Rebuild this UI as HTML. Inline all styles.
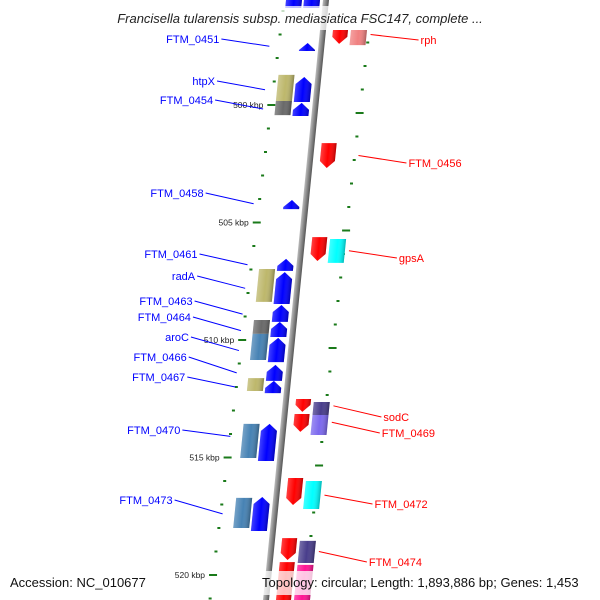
<!DOCTYPE html>
<html><head><meta charset="utf-8"><style>
html,body{margin:0;padding:0;background:#fff;}
svg{display:block;font-family:"Liberation Sans",sans-serif;}
</style></head><body>
<svg id="map" width="600" height="600" viewBox="0 0 600 600" xmlns="http://www.w3.org/2000/svg">
<defs>
<linearGradient id="shade" x1="0" y1="0" x2="1" y2="0">
<stop offset="0" stop-color="#fff" stop-opacity="0.25"/>
<stop offset="0.5" stop-color="#fff" stop-opacity="0"/>
<stop offset="1" stop-color="#000" stop-opacity="0.28"/>
</linearGradient>
<linearGradient id="bb" x1="0" y1="0" x2="1" y2="0">
<stop offset="0" stop-color="#bbb"/><stop offset="0.5" stop-color="#888"/><stop offset="1" stop-color="#555"/>
</linearGradient>
</defs>
<g id="ticks"></g>
<g id="feat" transform="matrix(1,0,-0.1,1,326,0)">
<rect x="-3" y="-20" width="6" height="640" fill="url(#bb)"/>
</g>
<g id="labels"></g>
<rect x="80" y="6" width="440" height="24" fill="#fff" fill-opacity="0.75"/>
<text x="300" y="23" text-anchor="middle" font-size="13" font-style="italic" fill="#222">Francisella tularensis subsp. mediasiatica FSC147, complete ...</text>
<text x="10" y="587" font-size="13" fill="#111">Accession: NC_010677</text>
<rect x="258" y="571" width="342" height="24" fill="#fff" fill-opacity="0.75"/>
<text x="262" y="587" font-size="13" fill="#111">Topology: circular; Length: 1,893,886 bp; Genes: 1,453</text>
</svg>
<script>
// feature data (kbp)
const featStart = [495.11,495.11,496.81,496.81,497.36,498.81,498.72,499.91,499.83,501.62,504.04,505.62,505.70,506.55,507.11,506.98,508.51,509.23,509.15,509.91,509.74,511.06,511.74,511.62,512.51,512.64,513.15,513.19,513.57,513.57,515.87,516.00,516.68,516.72,518.43,518.55,519.45,519.57];
const featEnd   = [495.87,495.87,497.40,497.45,497.70,499.87,499.83,500.47,500.43,502.68,504.43,506.64,506.72,507.06,508.47,508.38,509.23,509.87,509.74,510.94,510.85,511.74,512.26,512.17,513.06,513.19,513.91,514.04,515.15,515.02,517.02,517.19,518.13,518.00,519.36,519.49,521.6,521.6];
const featLane  = ["fwd","cogL","rev","cogR","fwd","fwd","cogL","fwd","cogL","rev","fwd","rev","cogR","fwd","fwd","cogL","fwd","fwd","cogL","fwd","cogL","fwd","fwd","cogL","rev","cogR","rev","cogR","fwd","cogL","rev","cogR","fwd","cogL","rev","cogR","rev","cogR"];
const featColor = ["#0000ff","#0000ff","#ff0000","#f08080","#0000ff","#0000ff","#bdb76b","#0000ff","#696969","#ff0000","#0000ff","#ff0000","#00ffff","#0000ff","#0000ff","#bdb76b","#0000ff","#0000ff","#696969","#0000ff","#4682b4","#0000ff","#0000ff","#bdb76b","#ff0000","#483d8b","#ff0000","#7b68ee","#0000ff","#4682b4","#ff0000","#00ffff","#0000ff","#4682b4","#ff0000","#483d8b","#ff0000","#ff1493"];
// labels
const labelNames = ["FTM_0451","htpX","FTM_0454","FTM_0458","FTM_0461","radA","FTM_0463","FTM_0464","aroC","FTM_0466","FTM_0467","FTM_0470","FTM_0473","rph","FTM_0456","gpsA","sodC","FTM_0469","FTM_0472","FTM_0474"];
const labelKbp   = [497.50,499.35,500.17,504.20,506.80,507.80,508.90,509.60,510.45,511.40,512.00,514.10,517.40,497.00,502.15,506.20,512.80,513.50,516.60,519.00];
const labelSide  = ["L","L","L","L","L","L","L","L","L","L","L","L","L","R","R","R","R","R","R","R"];
const labelTextY = [39,81,100,193,254,276,301,317,337,357,377,430,500,40,163,258,417,433,504,562];
// ruler
const tickKbp = [495,496,497,498,499,500,501,502,503,504,505,506,507,508,509,510,511,512,513,514,515,516,517,518,519,520,521];
const majorLabels = ["500 kbp","505 kbp","510 kbp","515 kbp","520 kbp"];
const majorKbp = [500,505,510,515,520];

const NS="http://www.w3.org/2000/svg";
const yScale = k => 105 + (k-500)*23.5;
const laneU = {fwd:[-22,-6], cogL:[-40,-24], rev:[10,25], cogR:[28,44]};
const feat=document.getElementById('feat');
function mk(tag,parent){const e=document.createElementNS(NS,tag);parent.appendChild(e);return e;}

for(let i=0;i<featStart.length;i++){
  const y1=yScale(featStart[i]), y2=yScale(featEnd[i]);
  const [u1,u2]=laneU[featLane[i]];
  let pts;
  const h=Math.min(7,(y2-y1));
  if(featLane[i]==="fwd"){
    pts=[[u1,y2],[u1,y1+h],[(u1+u2)/2,y1],[u2,y1+h],[u2,y2]];
  } else if(featLane[i]==="rev"){
    pts=[[u1,y1],[u2,y1],[u2,y2-h],[(u1+u2)/2,y2],[u1,y2-h]];
  } else {
    pts=[[u1,y1],[u2,y1],[u2,y2],[u1,y2]];
  }
  const s=pts.map(p=>p.join(',')).join(' ');
  const p=mk('polygon',feat);
  
  
  p.setAttribute('points',s);
  p.setAttribute('fill',featColor[i]);
  const o=mk('polygon',feat);
  
  
  o.setAttribute('points',s);
  o.setAttribute('fill','url(#shade)');
}

const ticks=document.getElementById('ticks');
const leftX = y => 280 - 0.124*(y-35);
const rightX = y => 368 - 0.115*(y-40);
tickKbp.forEach(k=>{
  const y=yScale(k);
  const major = majorKbp.includes(k);
  const w = major?8:3;
  const a=mk('rect',ticks);
  
  
  a.setAttribute('x',leftX(y)-w/2);a.setAttribute('y',y-1);a.setAttribute('width',w);a.setAttribute('height',2);a.setAttribute('fill','#1a7a1a');
  const yr=y+8;
  const b=mk('rect',ticks);
  
  
  b.setAttribute('x',rightX(yr)-w/2);b.setAttribute('y',yr-1);b.setAttribute('width',w);b.setAttribute('height',2);b.setAttribute('fill','#1a7a1a');
});
majorKbp.forEach((k,i)=>{
  const y=yScale(k);
  const t=mk('text',ticks);
  
  
  t.setAttribute('x',leftX(y)-8);t.setAttribute('y',y+3);
  t.setAttribute('text-anchor','end');t.setAttribute('font-size','8.5');t.setAttribute('fill','#222');
  t.textContent=majorLabels[i];
});

const labels=document.getElementById('labels');
const bbX = y => 326 - 0.1*y;
labelNames.forEach((n,i)=>{
  const fy=yScale(labelKbp[i]);
  const ty=labelTextY[i];
  const L=labelSide[i]==="L";
  const lineEnd = L ? bbX(fy)-52 : bbX(fy)+48;
  const lineStart = L ? lineEnd-48 : lineEnd+48;
  const ln=mk('line',labels);
  
  
  ln.setAttribute('x1',lineStart);ln.setAttribute('y1',ty);
  ln.setAttribute('x2',lineEnd);ln.setAttribute('y2',fy);
  ln.setAttribute('stroke',L?'#0000ff':'#ff0000');ln.setAttribute('stroke-width','1');
  const t=mk('text',labels);
  
  
  t.setAttribute('x',L?lineStart-2:lineStart+2);t.setAttribute('y',ty+4);
  t.setAttribute('text-anchor',L?'end':'start');
  t.setAttribute('font-size','11');t.setAttribute('fill',L?'#0000ff':'#ff0000');
  t.textContent=n;
});
</script>
</body></html>
